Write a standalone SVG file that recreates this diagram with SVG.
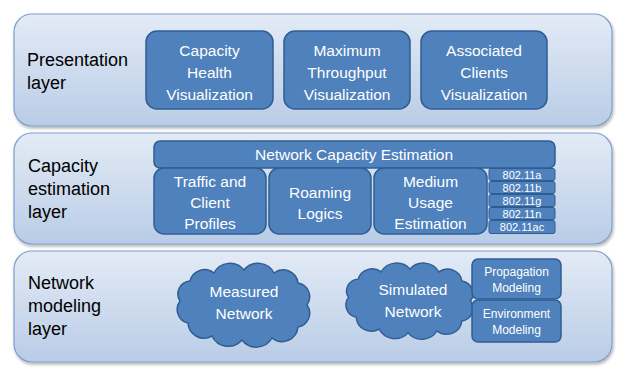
<svg xmlns="http://www.w3.org/2000/svg" width="631" height="371" viewBox="0 0 631 371">
<defs>
<linearGradient id="lg" x1="0" y1="0" x2="0" y2="1">
<stop offset="0" stop-color="#e3ebf6"/>
<stop offset="1" stop-color="#b9cce6"/>
</linearGradient>
<filter id="sh" x="-5%" y="-10%" width="110%" height="125%">
<feDropShadow dx="1" dy="2" stdDeviation="1.5" flood-color="#000" flood-opacity="0.3"/>
</filter>
<path id="cloud" d="M-64,-4 A13,13 0 0 1 -54,-24 A15,15 0 0 1 -30,-32 A18,18 0 0 1 0,-35 A18,18 0 0 1 30,-32 A15,15 0 0 1 54,-22 A14,14 0 0 1 63,0 A14,14 0 0 1 54,22 A16,16 0 0 1 28,33 A18,18 0 0 1 -2,35 A18,18 0 0 1 -32,31 A16,16 0 0 1 -56,18 A14,14 0 0 1 -64,-4 Z"/>
</defs>
<style>
.layer{fill:url(#lg);stroke:#7f9fcb;stroke-width:1.2;filter:url(#sh)}
.box{fill:#4f81bd;stroke:#2f5d93;stroke-width:1.5}
.sbox{fill:#4f81bd;stroke:#2f5d93;stroke-width:1}
.lbl{font-family:"Liberation Sans",Arial,sans-serif;font-size:18px;fill:#000}
.bt{font-family:"Liberation Sans",Arial,sans-serif;font-size:15.5px;fill:#fff;text-anchor:middle}
.st{font-family:"Liberation Sans",Arial,sans-serif;font-size:11px;fill:#fff;text-anchor:middle}
.mt{font-family:"Liberation Sans",Arial,sans-serif;font-size:12px;fill:#fff;text-anchor:middle}
</style>

<g id="layer-presentation">
<rect class="layer" x="14" y="14" width="598" height="112" rx="18"/>
<text class="lbl" x="27" y="66">Presentation</text>
<text class="lbl" x="27" y="89">layer</text>
</g>
<g id="capacity-health">
<rect class="box" x="146" y="31" width="127" height="78" rx="11"/>
<text class="bt" x="209.5" y="56">Capacity</text>
<text class="bt" x="209.5" y="78">Health</text>
<text class="bt" x="209.5" y="100">Visualization</text>
</g>
<g id="max-throughput">
<rect class="box" x="284" y="31" width="126" height="78" rx="11"/>
<text class="bt" x="347" y="56">Maximum</text>
<text class="bt" x="347" y="78">Throughput</text>
<text class="bt" x="347" y="100">Visualization</text>
</g>
<g id="assoc-clients">
<rect class="box" x="421" y="31" width="126" height="78" rx="11"/>
<text class="bt" x="484" y="56">Associated</text>
<text class="bt" x="484" y="78">Clients</text>
<text class="bt" x="484" y="100">Visualization</text>
</g>

<g id="layer-capacity">
<rect class="layer" x="14" y="133" width="598" height="111" rx="18"/>
<text class="lbl" x="28" y="172">Capacity</text>
<text class="lbl" x="28" y="195">estimation</text>
<text class="lbl" x="28" y="218">layer</text>
</g>
<g id="nce">
<rect class="box" x="154" y="141" width="401" height="27" rx="6"/>
<text class="bt" x="354" y="160">Network Capacity Estimation</text>
</g>
<g id="traffic">
<rect class="box" x="154" y="168" width="112" height="66" rx="10"/>
<text class="bt" x="210" y="187">Traffic and</text>
<text class="bt" x="210" y="208">Client</text>
<text class="bt" x="210" y="229">Profiles</text>
</g>
<g id="roaming">
<rect class="box" x="269" y="168" width="102" height="66" rx="10"/>
<text class="bt" x="320" y="198">Roaming</text>
<text class="bt" x="320" y="219">Logics</text>
</g>
<g id="medium">
<rect class="box" x="374" y="168" width="113" height="66" rx="10"/>
<text class="bt" x="430.5" y="187">Medium</text>
<text class="bt" x="430.5" y="208">Usage</text>
<text class="bt" x="430.5" y="229">Estimation</text>
</g>
<g id="std-a"><rect class="sbox" x="489" y="168.5" width="66" height="12" rx="2"/><text class="st" x="522" y="178.5">802.11a</text></g>
<g id="std-b"><rect class="sbox" x="489" y="181.5" width="66" height="12" rx="2"/><text class="st" x="522" y="191.5">802.11b</text></g>
<g id="std-g"><rect class="sbox" x="489" y="194.5" width="66" height="12" rx="2"/><text class="st" x="522" y="204.5">802.11g</text></g>
<g id="std-n"><rect class="sbox" x="489" y="207.5" width="66" height="12" rx="2"/><text class="st" x="522" y="217.5">802.11n</text></g>
<g id="std-ac"><rect class="sbox" x="489" y="220.5" width="66" height="13" rx="2"/><text class="st" x="522" y="231">802.11ac</text></g>

<g id="layer-network">
<rect class="layer" x="14" y="251" width="598" height="111" rx="18"/>
<text class="lbl" x="28" y="289">Network</text>
<text class="lbl" x="28" y="312">modeling</text>
<text class="lbl" x="28" y="335">layer</text>
</g>
<g id="measured">
<use href="#cloud" class="box" transform="translate(244,305)"/>
<text class="bt" x="244" y="297">Measured</text>
<text class="bt" x="244" y="319">Network</text>
</g>
<g id="simulated">
<use href="#cloud" class="box" vector-effect="non-scaling-stroke" transform="translate(410,301) scale(0.96,0.91)"/>
<text class="bt" x="413" y="295">Simulated</text>
<text class="bt" x="413" y="317">Network</text>
</g>
<g id="propagation">
<rect class="box" x="472" y="259" width="89" height="40" rx="6"/>
<text class="mt" x="516.5" y="276">Propagation</text>
<text class="mt" x="516.5" y="292">Modeling</text>
</g>
<g id="environment">
<rect class="box" x="472" y="300" width="89" height="42" rx="6"/>
<text class="mt" x="516.5" y="318">Environment</text>
<text class="mt" x="516.5" y="334">Modeling</text>
</g>
<g id="connectors"/>
</svg>
